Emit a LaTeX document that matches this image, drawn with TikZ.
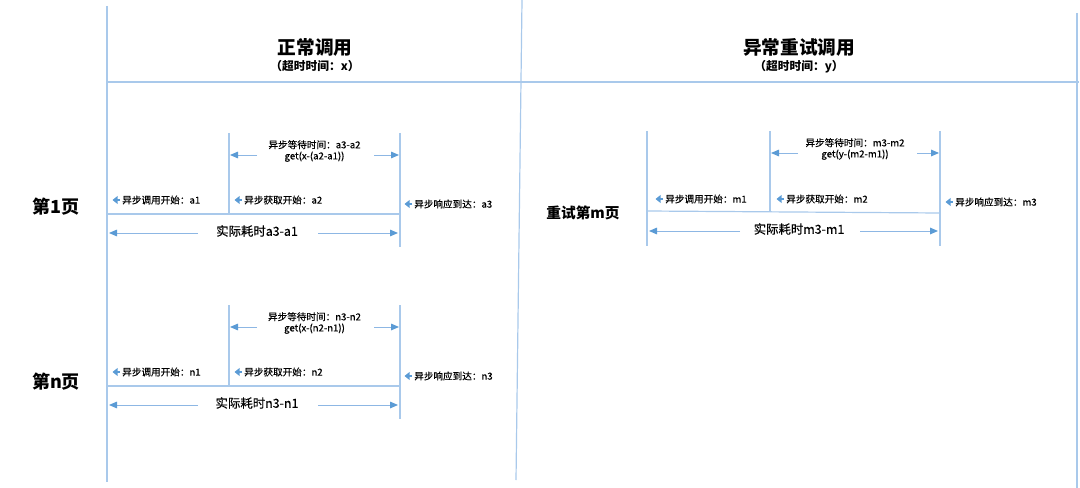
\documentclass[tikz,border=0pt]{standalone}
\usepackage{fontspec}
\setmainfont{Noto Sans CJK SC}
\newfontfamily\medfont[FakeBold=0.35]{Noto Sans CJK SC}
\usetikzlibrary{arrows.meta}
\definecolor{gridline}{HTML}{A9C9EB}
\definecolor{dimline}{HTML}{8DB7E4}
\definecolor{tipblue}{HTML}{5B9BD5}
\begin{document}
\begin{tikzpicture}[x=0.75pt,y=-0.75pt,
  frame/.style={draw=gridline,line width=0.9pt},
  tickline/.style={draw=gridline,line width=0.9pt},
  dim/.style={draw=dimline,line width=0.7pt,-{Triangle[length=6pt,width=5pt,color=tipblue]}},
  marker/.style={draw=tipblue,line width=1.9pt,-{Triangle[length=3.8pt,width=5.8pt,color=tipblue]}},
  title/.style={font=\fontsize{14}{16}\selectfont\bfseries,inner sep=0pt},
  subtitle/.style={font=\fontsize{8.8}{10}\selectfont\bfseries,inner sep=0pt},
  pagelbl/.style={font=\fontsize{13.5}{15}\selectfont\bfseries,inner sep=0pt},
  small/.style={font=\fontsize{7.2}{8.3}\selectfont\medfont,inner sep=0pt,align=center},
  evt/.style={font=\fontsize{7.2}{8.3}\selectfont\medfont,inner sep=0pt,anchor=west},
  total/.style={font=\fontsize{9.3}{11}\selectfont\medfont,inner sep=0pt}]
\useasboundingbox (0,0) rectangle (1080,488);

% frame
\coordinate (Ltop) at (107,6);
\coordinate (Lbot) at (107,482);
\coordinate (Mtop) at (522,0);
\coordinate (Mbot) at (516,480);
\coordinate (Rtop) at (1077,13);
\coordinate (Rbot) at (1077,488);
\coordinate (Hl) at (107,82);
\coordinate (Hr) at (1079,82);
\draw[frame] (Ltop) -- (Lbot);
\draw[frame] (Mtop) -- (Mbot);
\draw[frame] (Rtop) -- (Rbot);
\draw[frame] (Hl) -- (Hr);

% titles
\node[title] (t1) at (315,47) {正常调用};
\node[subtitle] (s1) at (315,66) {（超时时间：x）};
\node[title] (t2) at (799,47) {异常重试调用};
\node[subtitle] (s2) at (799,67) {（超时时间：y）};

% page labels
\node[pagelbl] (p1) at (56,207) {第1页};
\node[pagelbl] (pn) at (56,382) {第n页};
\node[font=\fontsize{11}{13}\selectfont\bfseries,inner sep=0pt] (pm) at (583,213) {重试第m页};

% ===== section 1 =====
\coordinate (a2top) at (229,133);
\coordinate (a2bot) at (229,214);
\coordinate (a3top) at (400,133);
\coordinate (a3bot) at (400,247);
\coordinate (a1h) at (107,214);
\coordinate (a3h) at (400,214);
\draw[tickline] (a2top) -- (a2bot);
\draw[tickline] (a3top) -- (a3bot);
\draw[tickline] (a1h) -- (a3h);
\node[small] (wa) at (314.5,151) {异步等待时间：a3-a2\\get(x-(a2-a1))};
\coordinate (wal) at (257,155); \coordinate (wae) at (230,155);
\coordinate (war) at (374,155); \coordinate (wae2) at (399,155);
\draw[dim] (wal) -- (wae);
\draw[dim] (war) -- (wae2);
\node[evt] (ea1) at (122,200) {异步调用开始：a1};
\node[evt] (ea2) at (244,200) {异步获取开始：a2};
\node[evt] (ea3) at (414,204) {异步响应到达：a3};
\foreach \n in {ea1,ea2,ea3} \draw[marker] (\n.west) ++(-2.5,0) -- ++(-7,0);
\node[total] (ta) at (257,231) {实际耗时a3-a1};
\coordinate (tal) at (198,233); \coordinate (tae) at (109,233);
\coordinate (tar) at (318,233); \coordinate (tae2) at (398,233);
\draw[dim] (tal) -- (tae);
\draw[dim] (tar) -- (tae2);

% ===== section n =====
\coordinate (n2top) at (229,305);
\coordinate (n2bot) at (229,386);
\coordinate (n3top) at (400,305);
\coordinate (n3bot) at (400,419);
\coordinate (n1h) at (107,386);
\coordinate (n3h) at (400,386);
\draw[tickline] (n2top) -- (n2bot);
\draw[tickline] (n3top) -- (n3bot);
\draw[tickline] (n1h) -- (n3h);
\node[small] (wn) at (314.5,323) {异步等待时间：n3-n2\\get(x-(n2-n1))};
\coordinate (wnl) at (257,327); \coordinate (wne) at (230,327);
\coordinate (wnr) at (374,327); \coordinate (wne2) at (399,327);
\draw[dim] (wnl) -- (wne);
\draw[dim] (wnr) -- (wne2);
\node[evt] (en1) at (122,372) {异步调用开始：n1};
\node[evt] (en2) at (244,372) {异步获取开始：n2};
\node[evt] (en3) at (414,376) {异步响应到达：n3};
\foreach \n in {en1,en2,en3} \draw[marker] (\n.west) ++(-2.5,0) -- ++(-7,0);
\node[total] (tn) at (257,403) {实际耗时n3-n1};
\coordinate (tnl) at (198,405); \coordinate (tne) at (109,405);
\coordinate (tnr) at (318,405); \coordinate (tne2) at (398,405);
\draw[dim] (tnl) -- (tne);
\draw[dim] (tnr) -- (tne2);

% ===== section m =====
\coordinate (m1top) at (647,131);
\coordinate (m1bot) at (647,246);
\coordinate (m2top) at (770,131);
\coordinate (m2bot) at (770,212);
\coordinate (m3top) at (940,131);
\coordinate (m3bot) at (940,246);
\coordinate (m1h) at (647,211);
\coordinate (m3h) at (940,213);
\draw[tickline] (m1top) -- (m1bot);
\draw[tickline] (m2top) -- (m2bot);
\draw[tickline] (m3top) -- (m3bot);
\draw[tickline] (m1h) -- (m3h);
\node[small] (wm) at (855,149) {异步等待时间：m3-m2\\get(y-(m2-m1))};
\coordinate (wml) at (798,153); \coordinate (wme) at (771,153);
\coordinate (wmr) at (917,153); \coordinate (wme2) at (939,153);
\draw[dim] (wml) -- (wme);
\draw[dim] (wmr) -- (wme2);
\node[evt] (em1) at (665,199) {异步调用开始：m1};
\node[evt] (em2) at (786,199) {异步获取开始：m2};
\node[evt] (em3) at (955,202) {异步响应到达：m3};
\foreach \n in {em1,em2,em3} \draw[marker] (\n.west) ++(-2.5,0) -- ++(-7,0);
\node[total] (tm) at (799,229) {实际耗时m3-m1};
\coordinate (tml) at (740,231); \coordinate (tme) at (649,231);
\coordinate (tmr) at (860,231); \coordinate (tme2) at (938,231);
\draw[dim] (tml) -- (tme);
\draw[dim] (tmr) -- (tme2);
\end{tikzpicture}
\end{document}
